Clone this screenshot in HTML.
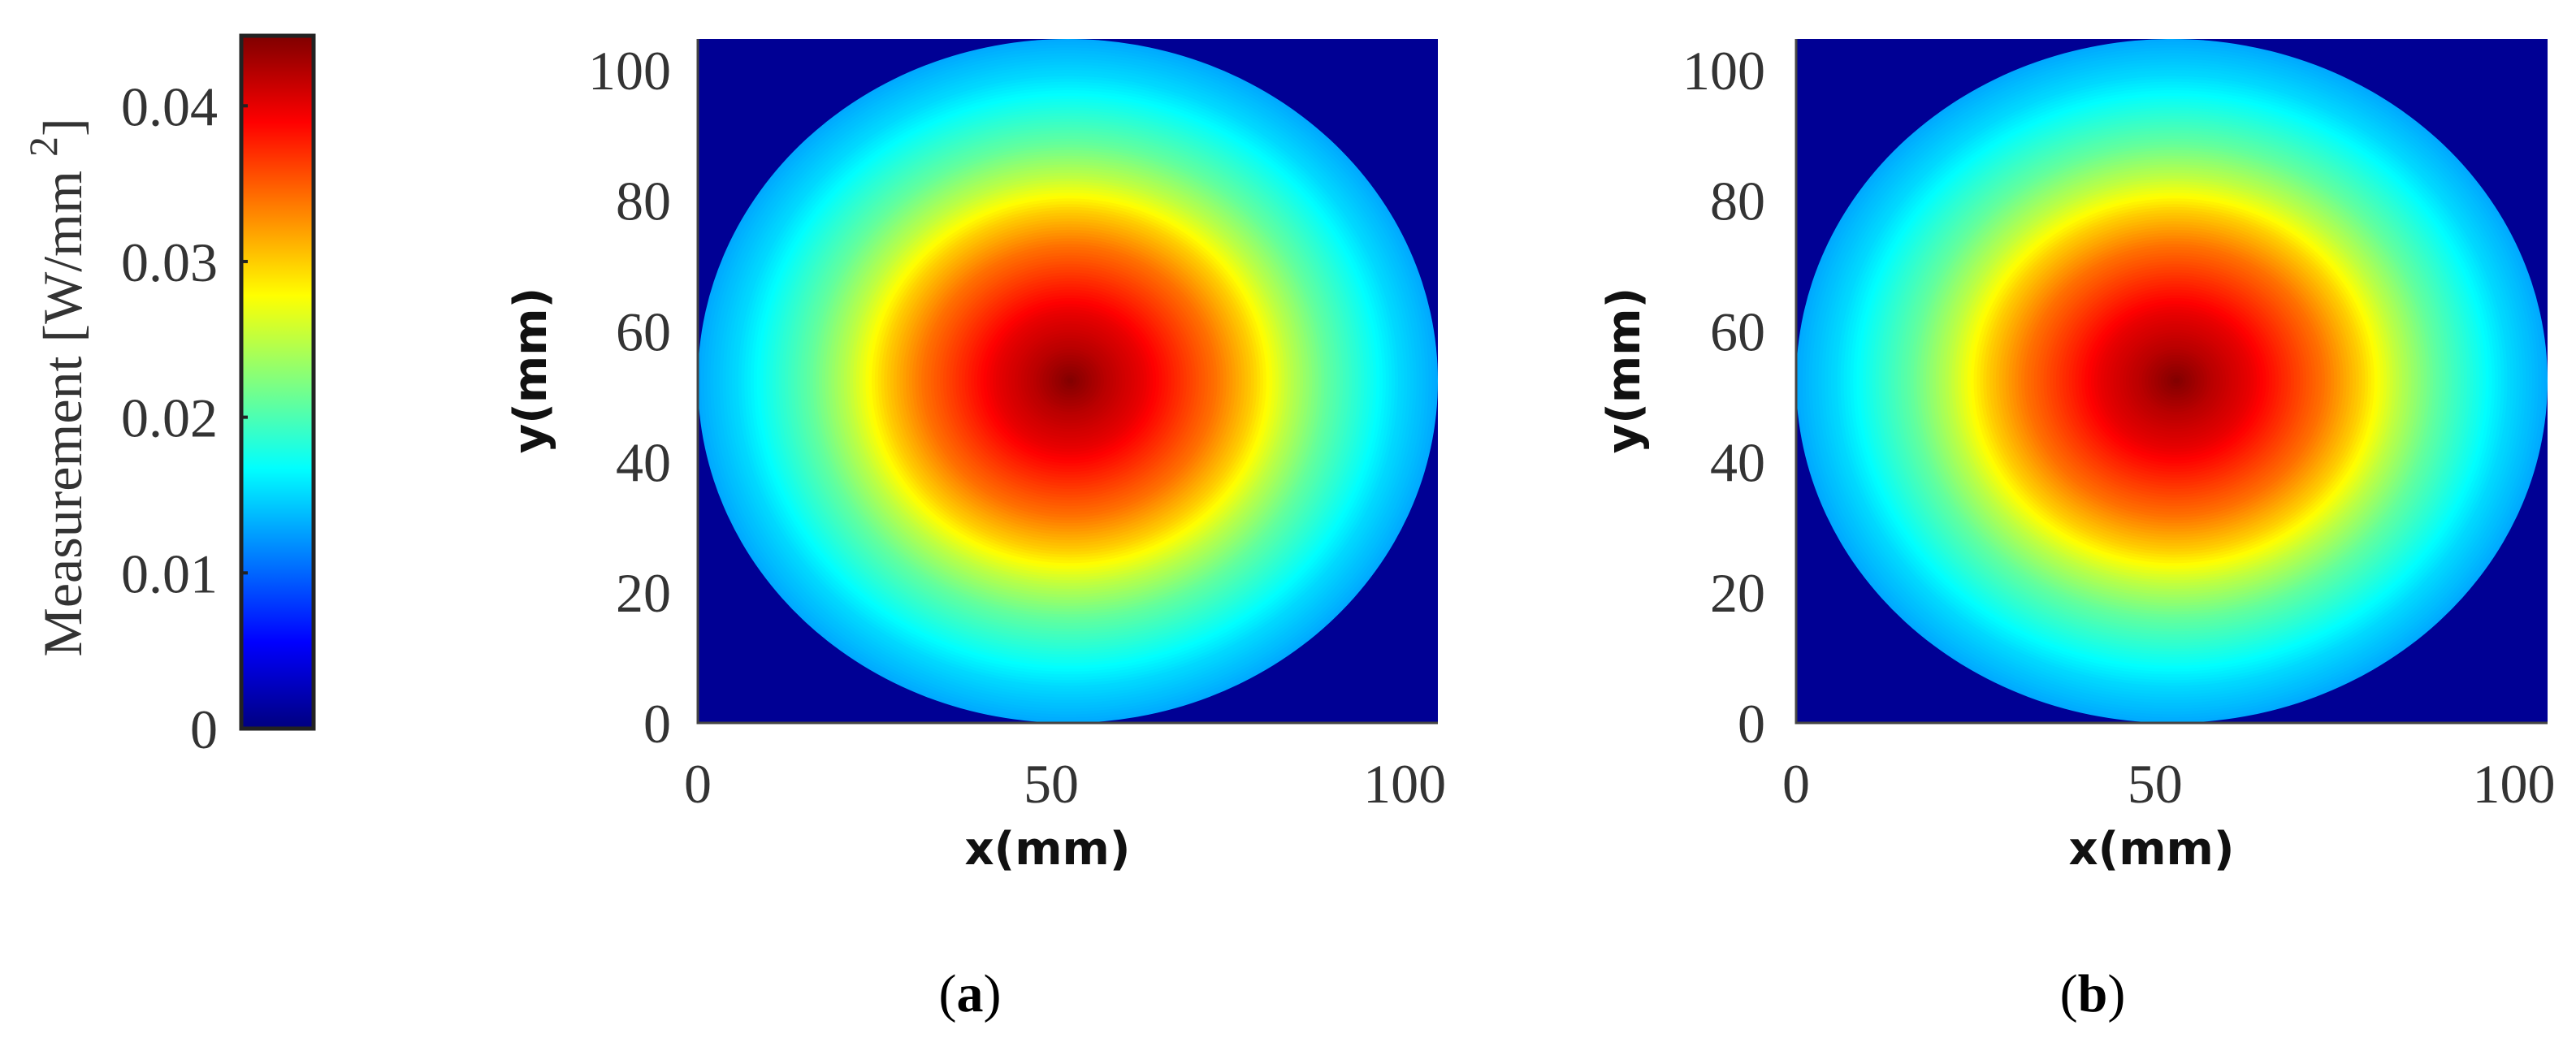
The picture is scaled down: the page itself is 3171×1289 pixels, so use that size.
<!DOCTYPE html>
<html><head><meta charset="utf-8"><style>
html,body{margin:0;padding:0;background:#fff;}
svg{display:block;}
.tk{font-family:"Liberation Serif",serif;font-size:68px;fill:#333;}
.ax{font-family:"DejaVu Sans","Liberation Sans",sans-serif;font-weight:bold;font-size:56px;fill:#111;}
</style></head><body>
<svg id="fig" width="3171" height="1289" viewBox="0 0 3171 1289" xmlns="http://www.w3.org/2000/svg">
<defs><linearGradient id="jetgrad" x1="0" y1="1" x2="0" y2="0"></linearGradient></defs>
<g id="cbar"></g>
<g id="plotA"></g>
<g id="plotB"></g>
<text x="0" y="0" class="tk" text-anchor="middle" transform="translate(100,477) rotate(-90)">Measurement [W/mm <tspan dy="-30" font-size="50">2</tspan><tspan dy="30">]</tspan></text>
<text x="1194" y="1245" text-anchor="middle" font-family="Liberation Serif,serif" font-size="66" fill="#000">(<tspan font-weight="bold">a</tspan>)</text>
<text x="2576" y="1245" text-anchor="middle" font-family="Liberation Serif,serif" font-size="66" fill="#000">(<tspan font-weight="bold">b</tspan>)</text>
</svg>
<script>
// ---- data ----
var cbarTicks = [0, 0.01, 0.02, 0.03, 0.04];
var cbarTickLabels = ["0", "0.01", "0.02", "0.03", "0.04"];
var cbarMax = 0.0445;
var axisTicks = [0, 20, 40, 60, 80, 100];
var xTicks = [0, 50, 100];
var axisMax = 104.7;
var profileRadiusA = [0, 0.1, 0.2, 0.3, 0.4, 0.5, 0.6, 0.7, 0.8, 0.9, 1.0];
var profileValueA = [0.0445, 0.042, 0.040, 0.037, 0.034, 0.030, 0.025, 0.021, 0.018, 0.015, 0.013];
var profileRadiusB = [0, 0.1, 0.2, 0.3, 0.4, 0.5, 0.6, 0.7, 0.8, 0.9, 1.0];
var profileValueB = [0.0445, 0.042, 0.040, 0.037, 0.034, 0.030, 0.025, 0.021, 0.018, 0.015, 0.013];
var centerA = [52.7, 52.4];
var centerB = [53.0, 52.4];

var SVGNS = "http://www.w3.org/2000/svg";
function mk(tag, attrs, parent){
  var e = document.createElementNS(SVGNS, tag);
  for (var k in attrs) { e.setAttribute(k, String(attrs[k])); }
  parent.appendChild(e);
  return e;
}
function clamp01(x){ return Math.max(0, Math.min(1, x)); }
function jet(t){
  t = clamp01(t);
  var r = clamp01(Math.min(4*t-1.5, -4*t+4.5));
  var g = clamp01(Math.min(4*t-0.5, -4*t+3.5));
  var b = clamp01(Math.min(4*t+0.5, -4*t+2.5));
  return "rgb(" + Math.round(r*255) + "," + Math.round(g*255) + "," + Math.round(b*255) + ")";
}
function interp(xs, ys, x){
  for (var i = 0; i < xs.length-1; i++) {
    if (x <= xs[i+1]) { var t = (x-xs[i])/(xs[i+1]-xs[i]); return ys[i] + t*(ys[i+1]-ys[i]); }
  }
  return ys[ys.length-1];
}

// ---- colorbar ----
try {
  var cb = document.getElementById("cbar");
  var cbL = 297, cbR = 386, cbTop = 44, cbBot = 897;
  var grad = document.getElementById("jetgrad");
  for (var i = 0; i <= 64; i++) {
    mk("stop", {"offset": i/64, "stop-color": jet(i/64)}, grad);
  }
  var cbRect = mk("rect", {"x": cbL, "y": cbTop, "width": cbR-cbL, "height": cbBot-cbTop, "fill": "url(#jetgrad)", "stroke": "#222", "stroke-width": 5}, cb);
  
  
  for (var j = 0; j < cbarTicks.length; j++) {
    var yy = cbBot - (cbarTicks[j]/cbarMax)*(cbBot-cbTop);
    var tl = mk("line", {"x1": cbL, "x2": cbL+8, "y1": yy, "y2": yy, "stroke": "#222", "stroke-width": 4}, cb);
    
    
    var tt = mk("text", {"x": 268, "y": yy+24, "text-anchor": "end", "class": "tk"}, cb);
    tt.textContent = cbarTickLabels[j];
    
    
  }
} catch (err) {}

// ---- heatmaps ----
function drawPlot(g, L, R, T, B, radii, vals, center, yLabX, yTickRight){
  function sx(v){ return L + v/axisMax*(R-L); }
  function sy(v){ return B - v/axisMax*(B-T); }
  var bg = mk("rect", {"x": L, "y": T, "width": R-L, "height": B-T, "fill": jet(0.02)}, g);
  
  
  var cx = sx(center[0]), cy = sy(center[1]);
  var rx = (R-L)/2, ry = (B-T)/2;
  var mx = L + rx, my = T + ry;
  var N = 120;
  for (var i = N; i >= 1; i--) {
    var r = i/N;
    var v = interp(radii, vals, r);
    var e = mk("ellipse", {"cx": cx+(mx-cx)*r, "cy": cy+(my-cy)*r, "rx": rx*r, "ry": ry*r, "fill": jet(v/cbarMax)}, g);
    
    
  }
  var ax = mk("path", {"d": "M" + L + "," + T + " L" + L + "," + B + " L" + R + "," + B, "fill": "none", "stroke": "#444", "stroke-width": 3}, g);
  
  
  for (var a = 0; a < axisTicks.length; a++) {
    var t1 = mk("text", {"x": yTickRight, "y": sy(axisTicks[a])+24, "text-anchor": "end", "class": "tk"}, g);
    t1.textContent = String(axisTicks[a]);
    
    
  }
  for (var b = 0; b < xTicks.length; b++) {
    var t2 = mk("text", {"x": sx(xTicks[b]), "y": 988, "text-anchor": "middle", "class": "tk"}, g);
    t2.textContent = String(xTicks[b]);
    
    
  }
  var xl = mk("text", {"x": (L+R)/2-25, "y": 1064, "text-anchor": "middle", "class": "ax"}, g);
  xl.textContent = "x(mm)";
  
  
  var yl = mk("text", {"x": 0, "y": 0, "text-anchor": "middle", "class": "ax", "transform": "translate(" + yLabX + ",456) rotate(-90)"}, g);
  yl.textContent = "y(mm)";
  
  
}
try { drawPlot(document.getElementById("plotA"), 859, 1770, 48, 890, profileRadiusA, profileValueA, centerA, 672, 826); } catch (err) {}
try { drawPlot(document.getElementById("plotB"), 2211, 3136, 48, 890, profileRadiusB, profileValueB, centerB, 2018, 2173); } catch (err) {}
</script>
</body></html>
